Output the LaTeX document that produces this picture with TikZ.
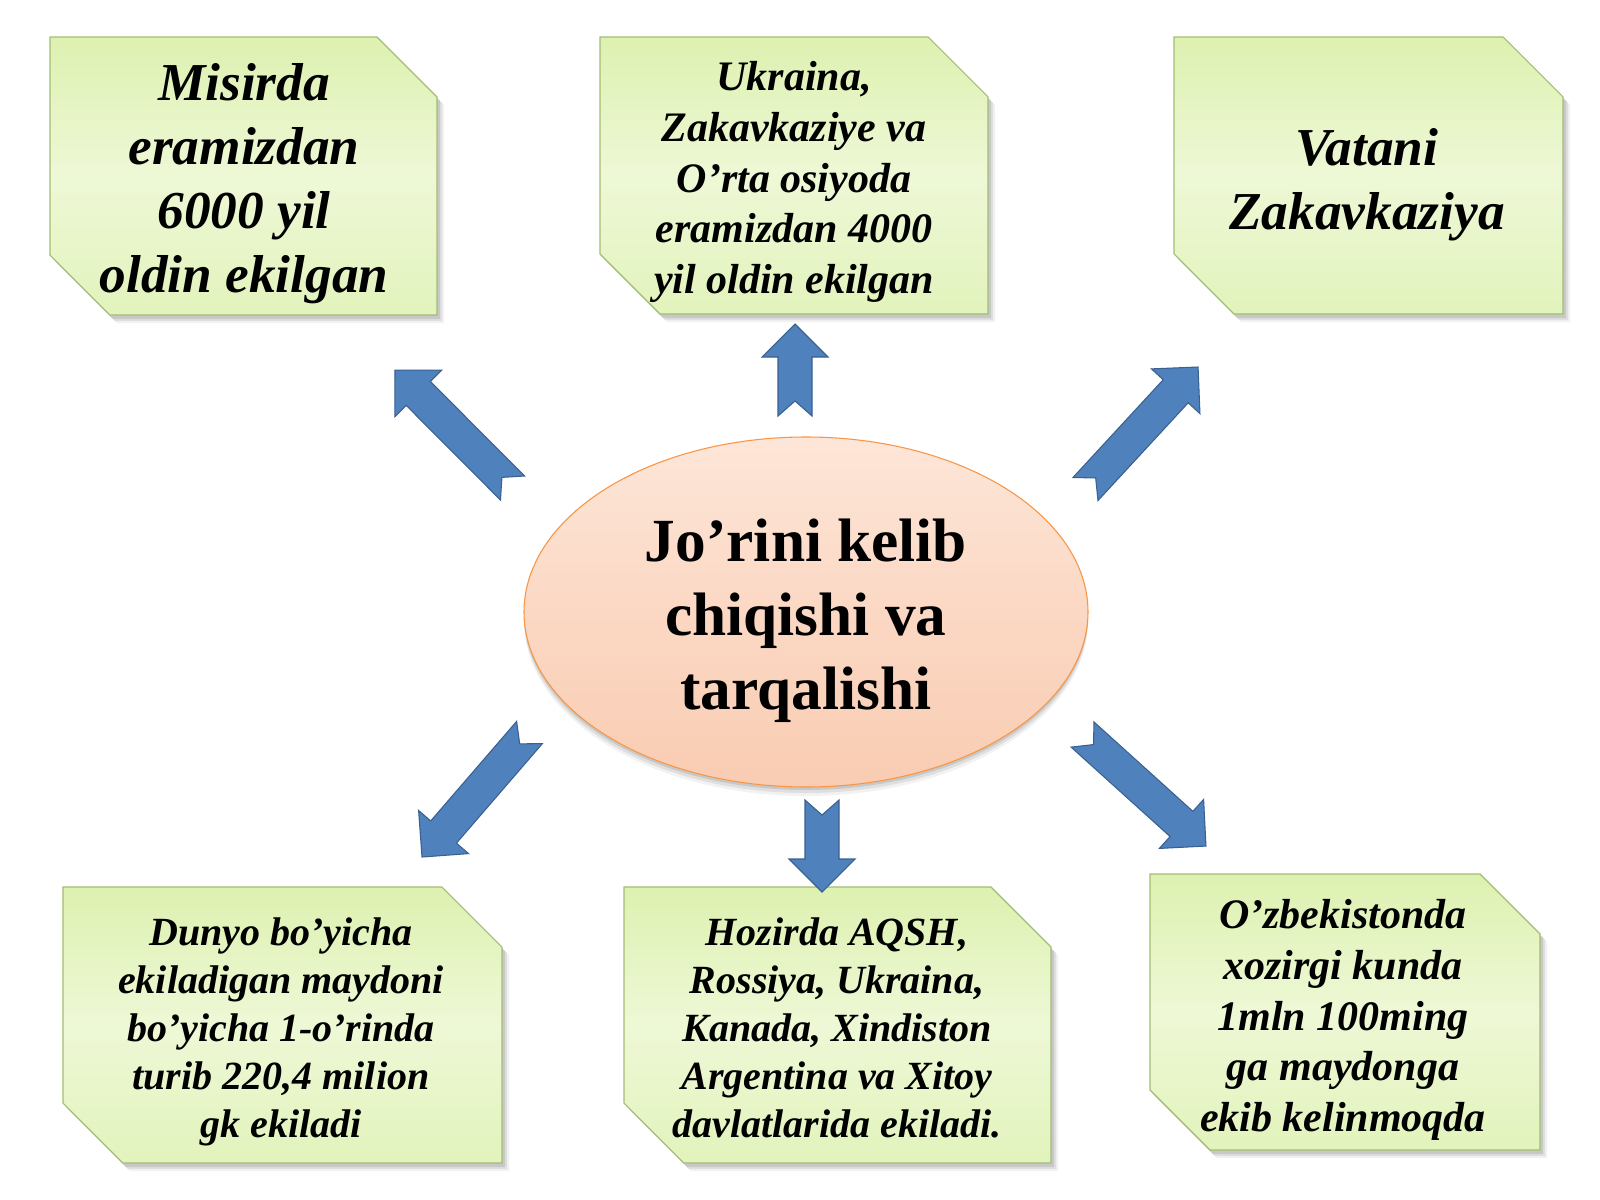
\documentclass[tikz,border=0pt]{standalone}
\usepackage{fontspec}
\setmainfont{Liberation Serif}
\definecolor{gA}{HTML}{DDF1B0}
\definecolor{gM}{HTML}{EEF8D6}
\definecolor{gB}{HTML}{E2F3BC}
\definecolor{boxline}{HTML}{A3BC74}
\definecolor{arrowblue}{HTML}{4F81BD}
\definecolor{arrowline}{HTML}{3A6090}
\definecolor{ovalline}{HTML}{F79646}
\definecolor{ovaltop}{HTML}{FDE6D8}
\definecolor{ovalmid}{HTML}{FBD8C4}
\definecolor{ovalbot}{HTML}{F9CCB2}
\newcommand\snipbox[5]{%
  \foreach \ox/\oy/\op in {7/8/0.05,5/6/0.08,3/4/0.10}{%
    \begin{scope}[shift={(\ox,\oy)}]
      \fill[black,opacity=\op] (#2,#3) -- ({#4-60},#3) -- (#4,{#3+60}) -- (#4,#5) -- ({#2+60},#5) -- (#2,{#5-60}) -- cycle;
    \end{scope}}
  \path[boxshape] (#2,#3) -- ({#4-60},#3) -- (#4,{#3+60}) -- (#4,#5) -- ({#2+60},#5) -- (#2,{#5-60}) -- cycle;
  \coordinate (#1) at ({(#2+#4)/2},{(#3+#5)/2});
}
\newcommand\blockarrow[4]{%
  \begin{scope}[shift={(#1,#2)},rotate=#3]
    \path[arrowshape] (0,-17) -- ({#4-33},-17) -- ({#4-33},-33) -- (#4,0) -- ({#4-33},33) -- ({#4-33},17) -- (0,17) -- (15,0) -- cycle;
  \end{scope}}
\begin{document}
\begin{tikzpicture}[x=0.75pt,y=-0.75pt,
  boxshape/.style={draw=boxline, line width=0.8pt, top color=gA, bottom color=gB, middle color=gM},
  boxtext/.style={align=center, inner sep=0pt, text=black},
  bigital/.style={font=\bfseries\itshape\fontsize{40}{48}\selectfont},
  miditalA/.style={font=\bfseries\itshape\fontsize{31.5}{38}\selectfont},
  miditalB/.style={font=\bfseries\itshape\fontsize{30}{36}\selectfont},
  arrowshape/.style={fill=arrowblue, draw=arrowline, line width=0.8pt, line join=miter},
]
\useasboundingbox (0,0) rectangle (1600,1200);
\fill[white] (0,0) rectangle (1600,1200);

% boxes
\snipbox{b1}{50}{37}{437}{315}
\snipbox{b2}{600}{37}{988}{314}
\snipbox{b3}{1174}{37}{1563}{314}
\snipbox{b4}{63}{887}{502}{1163}
\snipbox{b5}{624}{887}{1051}{1163}
\snipbox{b6}{1150}{874}{1540}{1150}

\node[boxtext,bigital] (t1) at (244,184) {Misirda\\eramizdan\\6000 yil\\oldin ekilgan};
\node[boxtext,miditalA] (t2) at (794,182) {Ukraina,\\Zakavkaziye va\\O’rta osiyoda\\eramizdan 4000\\yil oldin ekilgan};
\node[boxtext,bigital] (t3) at (1367,185) {Vatani\\Zakavkaziya};
\node[boxtext,miditalB] (t4) at (281,1032) {Dunyo bo’yicha\\ekiladigan maydoni\\bo’yicha 1-o’rinda\\turib 220,4 milion\\gk ekiladi};
\node[boxtext,miditalB] (t5) at (837,1028) {Hozirda AQSH,\\Rossiya, Ukraina,\\Kanada, Xindiston\\Argentina va Xitoy\\davlatlarida ekiladi.};
\node[boxtext,miditalA] (t6) at (1343,1020) {O’zbekistonda\\xozirgi kunda\\1mln 100ming\\ga maydonga\\ekib kelinmoqda};

% central oval
\foreach \oy/\op in {9/0.05,6/0.08,3/0.10}{%
  \fill[black,opacity=\op] (806,{612+\oy}) ellipse [x radius=211.5pt, y radius=131.25pt];}
\path[top color=ovaltop, bottom color=ovalbot, middle color=ovalmid, draw=ovalline, line width=0.8pt]
  (806,612) ellipse [x radius=211.5pt, y radius=131.25pt];
\node[boxtext, font=\bfseries\fontsize{46}{55.5}\selectfont] (title) at (806,621)
  {Jo’rini kelib\\chiqishi va\\tarqalishi};

% block arrows
\blockarrow{795}{416}{90}{92}
\blockarrow{822}{800}{-90}{92}
\blockarrow{512.5}{488}{134.9}{166.5}
\blockarrow{1085.5}{489}{47.3}{166}
\blockarrow{529.5}{732.5}{229.2}{164.5}
\blockarrow{1082.5}{734.5}{-42.1}{166.4}
\end{tikzpicture}
\end{document}
